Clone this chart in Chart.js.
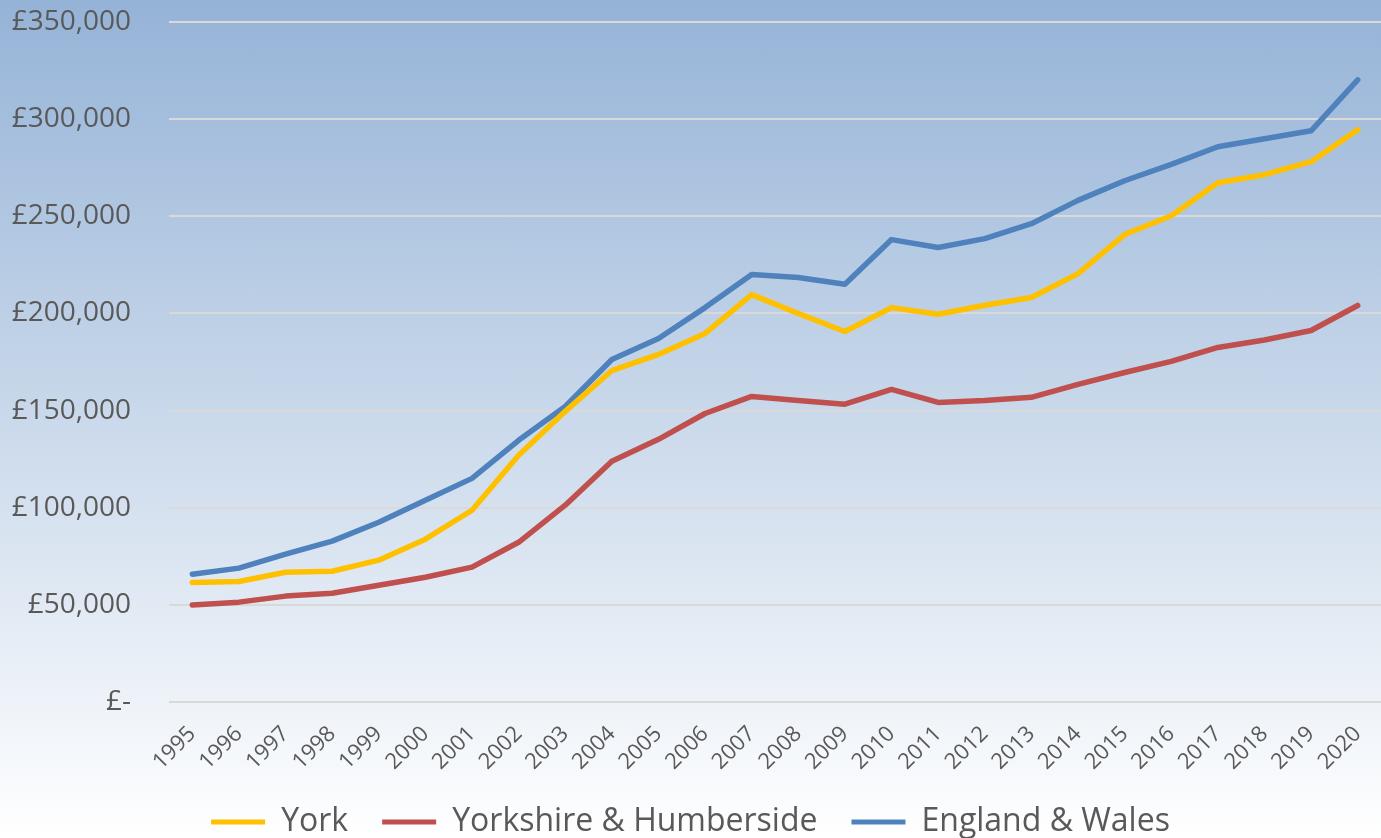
<!DOCTYPE html>
<html>
<head>
<meta charset="utf-8">
<script src="https://cdn.jsdelivr.net/npm/chart.js@4"></script>
<style>
  html, body { margin: 0; padding: 0; }
  body { background: linear-gradient(to bottom, #95b3d7 0%, #ffffff 100%); width: 1381px; height: 838px; overflow: hidden; }
  #wrap { width: 1381px; height: 838px; position: relative; }
</style>
</head>
<body>
<div id="wrap"><canvas id="chart-precios"></canvas></div>
<script>
  // años
  const years = ['1995', '1996', '1997', '1998', '1999', '2000', '2001', '2002', '2003', '2004', '2005', '2006', '2007',
    '2008', '2009', '2010', '2011', '2012', '2013', '2014', '2015', '2016', '2017', '2018', '2019', '2020'];

  const york = [61500, 62000, 66800, 67300, 73000, 83800, 98700, 127000, 149600, 170600, 178900, 189700, 209700,
    200000, 190700, 203000, 199600, 204200, 208200, 220500, 240600, 250300, 267300, 271400, 278100, 294500];

  const yorkshire = [49900, 51400, 54500, 56000, 60100, 64200, 69400, 82200, 101300, 123900, 135200, 148500, 157300,
    155200, 153300, 160900, 154200, 155200, 156800, 163500, 169600, 175300, 182500, 186300, 191200, 204100];

  const englandWales = [65800, 68900, 76100, 82800, 92500, 103800, 115100, 134700, 152100, 176300, 187100, 203000, 220000,
    218500, 215000, 238000, 233900, 238500, 246200, 258200, 268300, 276700, 285800, 289900, 294000, 320200];

  const seriesNames = ['York', 'Yorkshire & Humberside', 'England & Wales'];
  const seriesColors = ['#FFC000', '#C0504D', '#4F81BD'];

  const yTicks = [0, 50000, 100000, 150000, 200000, 250000, 300000, 350000];

  const FONT = "'Open Sans', 'Noto Sans', sans-serif";

  /** @type {HTMLCanvasElement} */
  let canvasPrecios = document.getElementById('chart-precios').getContext('2d');

  let preciosChart = new Chart(canvasPrecios, {
    type: 'line',
    data: {
      labels: years,
      datasets: [york, yorkshire, englandWales].map((data, i) => ({
        label: seriesNames[i],
        data: data,
        borderColor: seriesColors[i],
        backgroundColor: seriesColors[i],
        borderWidth: 5.5,
        borderCapStyle: 'round',
        borderJoinStyle: 'round',
        pointRadius: 0,
        tension: 0,
        fill: false
      }))
    },
    options: {
      responsive: true,
      maintainAspectRatio: false,
      animation: false,
      layout: { padding: 0 },
      plugins: {
        tooltip: { enabled: false },
        legend: {
          position: 'bottom',
          maxHeight: 66,
          labels: {
            color: '#595959',
            font: { family: FONT, size: 32 },
            boxWidth: 54,
            boxHeight: 5,
            padding: 34,
            generateLabels: (chart) => Chart.defaults.plugins.legend.labels.generateLabels(chart)
              .map(l => Object.assign(l, { lineWidth: 0, fillStyle: seriesColors[l.datasetIndex] }))
          }
        }
      },
      scales: {
        x: {
          offset: true,
          afterFit: (s) => { s.height = 70; s.paddingLeft = 0; s.paddingRight = 0; },
          grid: { display: false, drawTicks: false },
          border: { display: false },
          ticks: {
            color: '#595959',
            font: { family: FONT, size: 22 },
            minRotation: 45,
            maxRotation: 45,
            autoSkip: false,
            padding: 19
          }
        },
        y: {
          min: 0,
          max: 350000,
          afterFit: (s) => { s.width = 169; s.paddingTop = 22; s.paddingBottom = 0; },
          afterBuildTicks: (s) => { s.ticks = yTicks.map(v => ({ value: v })); },
          grid: { color: '#D9D9D9', lineWidth: 2, tickLength: 34, tickColor: 'rgba(0,0,0,0)' },
          border: { display: false },
          ticks: {
            color: '#595959',
            font: { family: FONT, size: 28 },
            padding: 4,
            callback: (v) => v === 0 ? '£-' : '£' + v.toLocaleString('en-GB')
          }
        }
      }
    }
  });
</script>
</body>
</html>
